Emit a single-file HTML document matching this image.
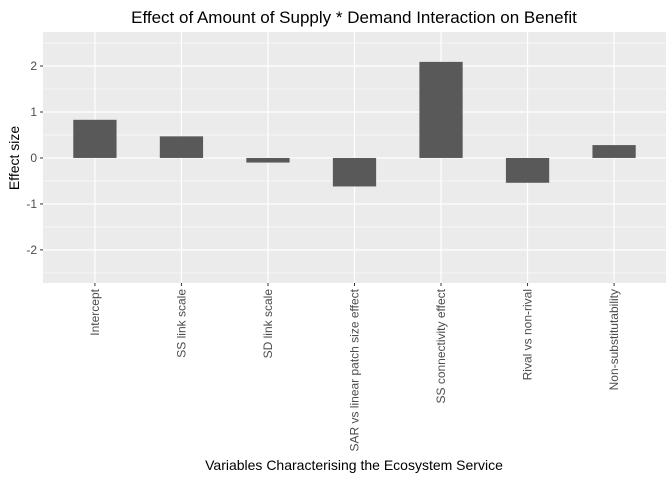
<!DOCTYPE html>
<html><head><meta charset="utf-8"><style>
body{margin:0;background:#fff;font-family:"Liberation Sans",sans-serif;}
svg text{font-family:"Liberation Sans",sans-serif;}
</style></head><body>
<svg id="chart" width="672" height="480" xmlns="http://www.w3.org/2000/svg">
<text x="354" y="23" font-size="17" text-anchor="middle" fill="#000">Effect of Amount of Supply * Demand Interaction on Benefit</text>
<rect x="43" y="32" width="623" height="251" fill="#ebebeb"/>
<g id="grid"></g><g id="bars"></g><g id="axes"></g>
<text transform="translate(19,158) rotate(-90)" font-size="14" text-anchor="middle" fill="#000">Effect size</text>
<text x="354" y="470" font-size="14" text-anchor="middle" fill="#000">Variables Characterising the Ecosystem Service</text>
</svg>
<script>
const categories=["Intercept","SS link scale","SD link scale","SAR vs linear patch size effect","SS connectivity effect","Rival vs non-rival","Non-substitutability"];
const values=[0.83,0.47,-0.10,-0.62,2.09,-0.54,0.28];
const yTicks=[-2,-1,0,1,2];
const yMin=-2.72,yMax=2.74;
const L=43,R=666,T=32,B=283;
const NS="http://www.w3.org/2000/svg";
const y=v=>T+(yMax-v)/(yMax-yMin)*(B-T);
const step=(R-L)/(categories.length+0.2);
const x=i=>L+(i+0.6)*step;
const bw=step*0.5;
function mk(p,tag,a){const e=document.createElementNS(NS,tag);for(const k in a)e.setAttribute(k,a[k]);p.appendChild(e);return e;}
const grid=document.getElementById('grid'),bars=document.getElementById('bars'),axes=document.getElementById('axes');
for(let t=-2.5;t<=2.5;t+=1){const g=mk(grid,'line',{x1:L,x2:R,y1:y(t),y2:y(t),stroke:'#fff','stroke-width':0.6});

}
yTicks.forEach(t=>{const g=mk(grid,'line',{x1:L,x2:R,y1:y(t),y2:y(t),stroke:'#fff','stroke-width':1.2});


const tk=mk(axes,'line',{x1:L-3,x2:L,y1:y(t),y2:y(t),stroke:'#333','stroke-width':1});


const lb=mk(axes,'text',{x:L-6,y:y(t)+4,'font-size':12,'text-anchor':'end',fill:'#4d4d4d'});lb.textContent=t;

});
categories.forEach((c,i)=>{const g=mk(grid,'line',{x1:x(i),x2:x(i),y1:T,y2:B,stroke:'#fff','stroke-width':1.2});


const v=values[i];const r=mk(bars,'rect',{x:x(i)-bw/2,width:bw,y:Math.min(y(v),y(0)),height:Math.abs(y(v)-y(0)),fill:'#595959'});


const tk=mk(axes,'line',{x1:x(i),x2:x(i),y1:B,y2:B+3,stroke:'#333','stroke-width':1});


const lb=mk(axes,'text',{transform:`translate(${x(i)+4},${B+6}) rotate(-90)`,'font-size':12,'text-anchor':'end',fill:'#4d4d4d'});lb.textContent=c;

});
</script>
</body></html>
